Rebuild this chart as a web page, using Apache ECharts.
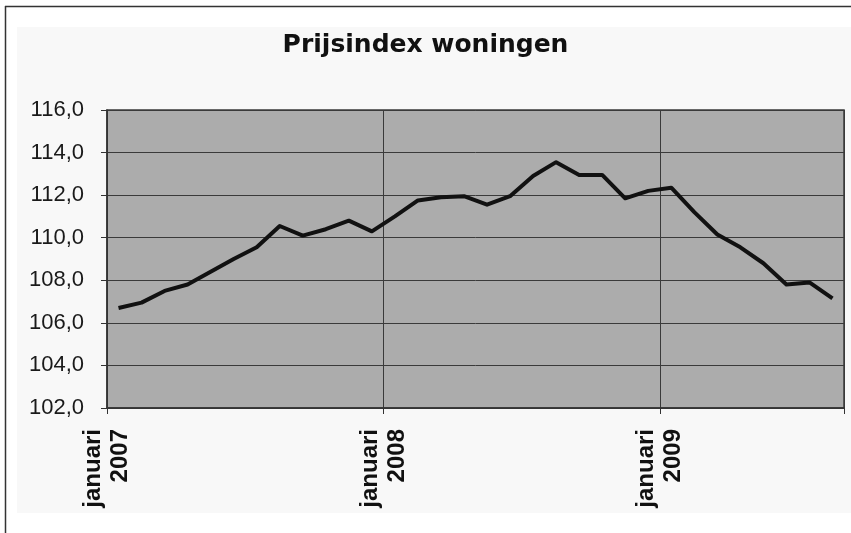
<!DOCTYPE html>
<html>
<head>
<meta charset="utf-8">
<script src="https://cdn.jsdelivr.net/npm/echarts@6/dist/echarts.min.js"></script>
<style>
  html, body { margin: 0; padding: 0; background: #fff; }
  #chart { width: 851px; height: 533px; }
</style>
</head>
<body>
<div id="chart"></div>
<script>
// maanden jan 2007 - aug 2009
const months = [
  'jan 2007', 'feb 2007', 'mrt 2007', 'apr 2007', 'mei 2007', 'jun 2007',
  'jul 2007', 'aug 2007', 'sep 2007', 'okt 2007', 'nov 2007', 'dec 2007',
  'jan 2008', 'feb 2008', 'mrt 2008', 'apr 2008', 'mei 2008', 'jun 2008',
  'jul 2008', 'aug 2008', 'sep 2008', 'okt 2008', 'nov 2008', 'dec 2008',
  'jan 2009', 'feb 2009', 'mrt 2009', 'apr 2009', 'mei 2009', 'jun 2009',
  'jul 2009', 'aug 2009'
]
const prijsindex = [
  106.7, 106.95, 107.5, 107.8, 108.4, 109.0, 109.55, 110.55, 110.1, 110.4, 110.8, 110.3,
  111.0, 111.75, 111.9, 111.95, 111.55, 111.95, 112.9, 113.55, 112.95, 112.95, 111.85, 112.2,
  112.35, 111.2, 110.15, 109.55, 108.8, 107.8, 107.9, 107.15
]
const yearLabels = ['januari\n2007', 'januari\n2008', 'januari\n2009']

const chart = echarts.init(document.getElementById('chart'))
chart.setOption({
  animation: false,
  backgroundColor: '#fff',
  title: {
    text: 'Prijsindex woningen',
    left: 'center',
    top: 28,
    textStyle: {
      fontFamily: 'DejaVu Sans',
      fontWeight: 'bold',
      fontSize: 25,
      color: '#111'
    }
  },
  graphic: [
    { type: 'rect', z: -10, shape: { x: 17, y: 27, width: 834, height: 486 }, style: { fill: '#f8f8f8' } },
    { type: 'line', shape: { x1: 5.5, y1: 6, x2: 5.5, y2: 533 }, style: { stroke: '#333', lineWidth: 1.5 } },
    { type: 'line', shape: { x1: 5, y1: 6.5, x2: 851, y2: 6.5 }, style: { stroke: '#333', lineWidth: 1.5 } }
  ],
  grid: {
    left: 107,
    right: 7,
    top: 110,
    bottom: 125,
    show: true,
    backgroundColor: '#acacac',
    borderColor: '#3a3a3a',
    borderWidth: 1.5
  },
  xAxis: [
    {
      type: 'category',
      data: months,
      boundaryGap: true,
      axisLine: { lineStyle: { color: '#333', width: 1.5 } },
      axisTick: { show: false },
      axisLabel: { show: false },
      splitLine: {
        show: true,
        interval: (i) => i % 12 === 0,
        lineStyle: { color: '#3a3a3a', width: 1 }
      }
    },
    {
      type: 'value',
      position: 'bottom',
      min: 0,
      max: 32,
      interval: 12,
      axisLine: { show: false },
      axisTick: { show: true, length: 6, lineStyle: { color: '#333' } },
      splitLine: { show: false },
      axisLabel: {
        rotate: 90,
        margin: 21,
        fontFamily: 'Liberation Sans',
        fontWeight: 'bold',
        fontSize: 24,
        lineHeight: 27,
        color: '#111',
        formatter: (v) => yearLabels[v / 12] || ''
      }
    }
  ],
  yAxis: {
    type: 'value',
    min: 102,
    max: 116,
    interval: 2,
    axisLine: { show: true, lineStyle: { color: '#333', width: 1.5 } },
    axisTick: { show: true, length: 6, lineStyle: { color: '#333' } },
    axisLabel: {
      margin: 23,
      fontFamily: 'Liberation Sans',
      fontSize: 22,
      color: '#1a1a1a',
      formatter: (v) => v.toFixed(1).replace('.', ',')
    },
    splitLine: { lineStyle: { color: '#3a3a3a', width: 1 } }
  },
  series: [{
    name: 'Prijsindex',
    type: 'line',
    xAxisIndex: 0,
    data: prijsindex,
    symbol: 'none',
    lineStyle: { color: '#111', width: 4, join: 'round' }
  }]
})
</script>
</body>
</html>
